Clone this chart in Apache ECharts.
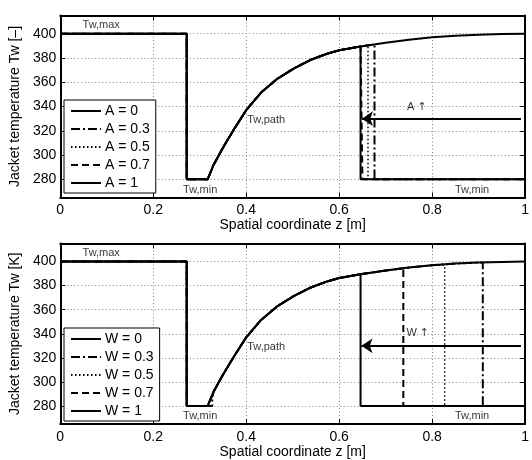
<!DOCTYPE html>
<html>
<head>
<meta charset="utf-8">
<script src="https://cdn.jsdelivr.net/npm/echarts@6/dist/echarts.min.js"></script>
<style>
html,body{margin:0;padding:0;background:#fff;}
#chart{width:532px;height:460px;}
</style>
</head>
<body>
<div id="chart"></div>
<script>
// ---- Data ----
// Common trajectory: Tw,max plateau, drop, Tw,min plateau, then Tw,path
const plateauMax = [[0, 400], [0.272, 400], [0.272, 280]];
const pathZ = [0.317, 0.33, 0.35, 0.375, 0.4, 0.432, 0.4675, 0.503, 0.539, 0.574, 0.6, 0.646, 0.7, 0.75, 0.8, 0.85, 0.9, 0.95, 1.0];
const pathT = [280, 292, 306, 322, 337, 351.5, 363, 371.5, 378.5, 383.5, 386.3, 389.5, 392.5, 395, 397, 398.3, 399.2, 399.7, 400];
const TwMin = 280;

// Top panel: switch-off position per A
const aNames = ['A = 0', 'A = 0.3', 'A = 0.5', 'A = 0.7', 'A = 1'];
const aDropZ = [1.0, 0.676, 0.662, 0.650, 0.646];
const aDropT = [400, 391.2, 390.5, 389.8, 389.5];

// Bottom panel: switch-off position per W
const wNames = ['W = 0', 'W = 0.3', 'W = 0.5', 'W = 0.7', 'W = 1'];
const wDropZ = [1.0, 0.909, 0.827, 0.738, 0.646];
const wDropT = [400, 399, 397.2, 394.5, 389.5];

const lineTypes = ['solid', [9, 3, 2, 3], [1.5, 2.5], [7, 4], 'solid'];
const lineWidths = [2, 2, 1.5, 2, 2];

const yTicks = [280, 300, 320, 340, 360, 380, 400];
const xTicks = [0, 0.2, 0.4, 0.6, 0.8, 1];

// Annotations [z, T, text]
const topNotes = [[0.088, 407.2, 'Tw,max'], [0.301, 271.2, 'Tw,min'], [0.443, 328.9, 'Tw,path'], [0.886, 271.2, 'Tw,min'], [0.767, 339.3, '{t|A} {r|↑}']];
const botNotes = [[0.088, 407.4, 'Tw,max'], [0.301, 271.4, 'Tw,min'], [0.443, 328.9, 'Tw,path'], [0.886, 271.4, 'Tw,min'], [0.769, 340.4, '{t|W} {r|↑}']];
const topArrow = [[0.991, 330], [0.649, 330]];
const botArrow = [[0.991, 330], [0.648, 330]];

// ---- Build ----
const FONT = "'Liberation Sans', Arial, Helvetica, sans-serif";

function buildLine(dropZ, dropT, startExtra) {
  const d = plateauMax.map(p => p.slice());
  if (startExtra) {
    startExtra.forEach(p => d.push(p.slice()));
  } else {
    d.push([pathZ[0], pathT[0]]);
  }
  for (let i = 1; i < pathZ.length; i++) {
    if (startExtra && pathZ[i] <= startExtra[startExtra.length - 1][0]) continue;
    if (pathZ[i] < dropZ) d.push([pathZ[i], pathT[i]]);
  }
  d.push([dropZ, dropT]);
  if (dropZ < 1) { d.push([dropZ, TwMin]); d.push([1, TwMin]); }
  return d;
}

const gridLine = { show: true, lineStyle: { color: '#808080', width: 1, type: [1, 2.5] } };

function axesFor(gi, yName) {
  const xa = [
    { gridIndex: gi, type: 'value', min: 0, max: 1, interval: 0.2, position: 'bottom',
      name: 'Spatial coordinate z [m]', nameLocation: 'middle', nameGap: 20,
      nameTextStyle: { fontFamily: FONT, fontSize: 14, color: '#000' },
      axisLine: { show: true, onZero: false, lineStyle: { color: '#000', width: 2 } },
      axisTick: { show: true, inside: true, length: 5, lineStyle: { color: '#000', width: 1 } },
      axisLabel: { fontFamily: FONT, fontSize: 14, color: '#000', margin: 6,
        formatter: v => String(+v.toFixed(1)) },
      splitLine: gridLine },
    { gridIndex: gi, type: 'value', min: 0, max: 1, interval: 0.2, position: 'top',
      axisLine: { show: true, onZero: false, lineStyle: { color: '#000', width: 2 } },
      axisTick: { show: true, inside: true, length: 5, lineStyle: { color: '#000', width: 1 } },
      axisLabel: { show: false }, splitLine: { show: false } }
  ];
  const ya = [
    { gridIndex: gi, type: 'value', min: 265, max: 415, position: 'left',
      name: yName, nameLocation: 'middle', nameGap: 30,
      nameTextStyle: { fontFamily: FONT, fontSize: 14, color: '#000' },
      axisLine: { show: true, onZero: false, lineStyle: { color: '#000', width: 2 } },
      axisTick: { show: true, inside: true, length: 5, customValues: yTicks, lineStyle: { color: '#000', width: 1 } },
      axisLabel: { fontFamily: FONT, fontSize: 14, color: '#000', margin: 4, customValues: yTicks },
      splitLine: gridLine },
    { gridIndex: gi, type: 'value', min: 265, max: 415, position: 'right',
      axisLine: { show: true, onZero: false, lineStyle: { color: '#000', width: 2 } },
      axisTick: { show: true, inside: true, length: 5, customValues: yTicks, lineStyle: { color: '#000', width: 1 } },
      axisLabel: { show: false, customValues: yTicks }, splitLine: { show: false } }
  ];
  return { xa, ya };
}

const t = axesFor(0, 'Jacket temperature Tw [–]');
const b = axesFor(1, 'Jacket temperature Tw [K]');

const series = [];
function addPanel(names, dropZ, dropT, xi, yi, notes, arrow, starts) {
  names.forEach((n, i) => {
    series.push({
      name: n, type: 'line', xAxisIndex: xi, yAxisIndex: yi,
      data: buildLine(dropZ[i], dropT[i], starts ? starts[i] : null),
      symbol: 'none', showSymbol: false,
      lineStyle: { color: '#000', width: lineWidths[i], type: lineTypes[i] },
      itemStyle: { color: '#000' }, z: 3 + i
    });
  });
  series.push({
    type: 'scatter', xAxisIndex: xi, yAxisIndex: yi, data: notes, symbolSize: 0,
    silent: true,
    label: { show: true, position: 'inside', formatter: p => p.data[2],
      fontFamily: FONT, fontSize: 11, color: '#000',
      rich: {
        t: { fontFamily: FONT, fontSize: 11, color: '#000' },
        r: { fontFamily: "'DejaVu Sans', sans-serif", fontSize: 11, color: '#000' }
      } }, z: 10
  });
  series.push({
    type: 'lines', coordinateSystem: 'cartesian2d', xAxisIndex: xi, yAxisIndex: yi,
    data: [{ coords: arrow }], symbol: ['none', 'arrow'], symbolSize: 11,
    lineStyle: { color: '#000', width: 2, opacity: 1 }, z: 9, silent: true
  });
}

// Bottom panel: small offset of path start for one curve (triangle near Tw,min)
const wStarts = [null, [[0.327, 280], [0.327, 287]], null, null, null];

addPanel(aNames, aDropZ, aDropT, 0, 0, topNotes, topArrow, null);
addPanel(wNames, wDropZ, wDropT, 2, 2, botNotes, botArrow, wStarts);

function legendFor(names, top) {
  return {
    data: names, orient: 'vertical', left: 64, top: top,
    backgroundColor: '#fff', borderColor: '#000', borderWidth: 1, borderRadius: 0,
    padding: [4, 6, 3, 6], itemGap: 4, itemWidth: 30, itemHeight: 14,
    itemStyle: { opacity: 0, borderWidth: 0 },
    textStyle: { fontFamily: FONT, fontSize: 14, color: '#000', padding: [0, 0, 0, -1] },
    selectedMode: false, inactiveColor: '#000'
  };
}

const option = {
  animation: false,
  backgroundColor: '#fff',
  grid: [
    { left: 59.5, right: 4.5, top: 15.5, height: 182, show: false },
    { left: 59.5, right: 4.5, top: 243.5, height: 182, show: false }
  ],
  xAxis: [t.xa[0], t.xa[1], b.xa[0], b.xa[1]],
  yAxis: [t.ya[0], t.ya[1], b.ya[0], b.ya[1]],
  legend: [legendFor(aNames, 100), legendFor(wNames, 328)],
  series: series
};

const chart = echarts.init(document.getElementById('chart'), null, { renderer: 'canvas' });
chart.setOption(option);
</script>
</body>
</html>
